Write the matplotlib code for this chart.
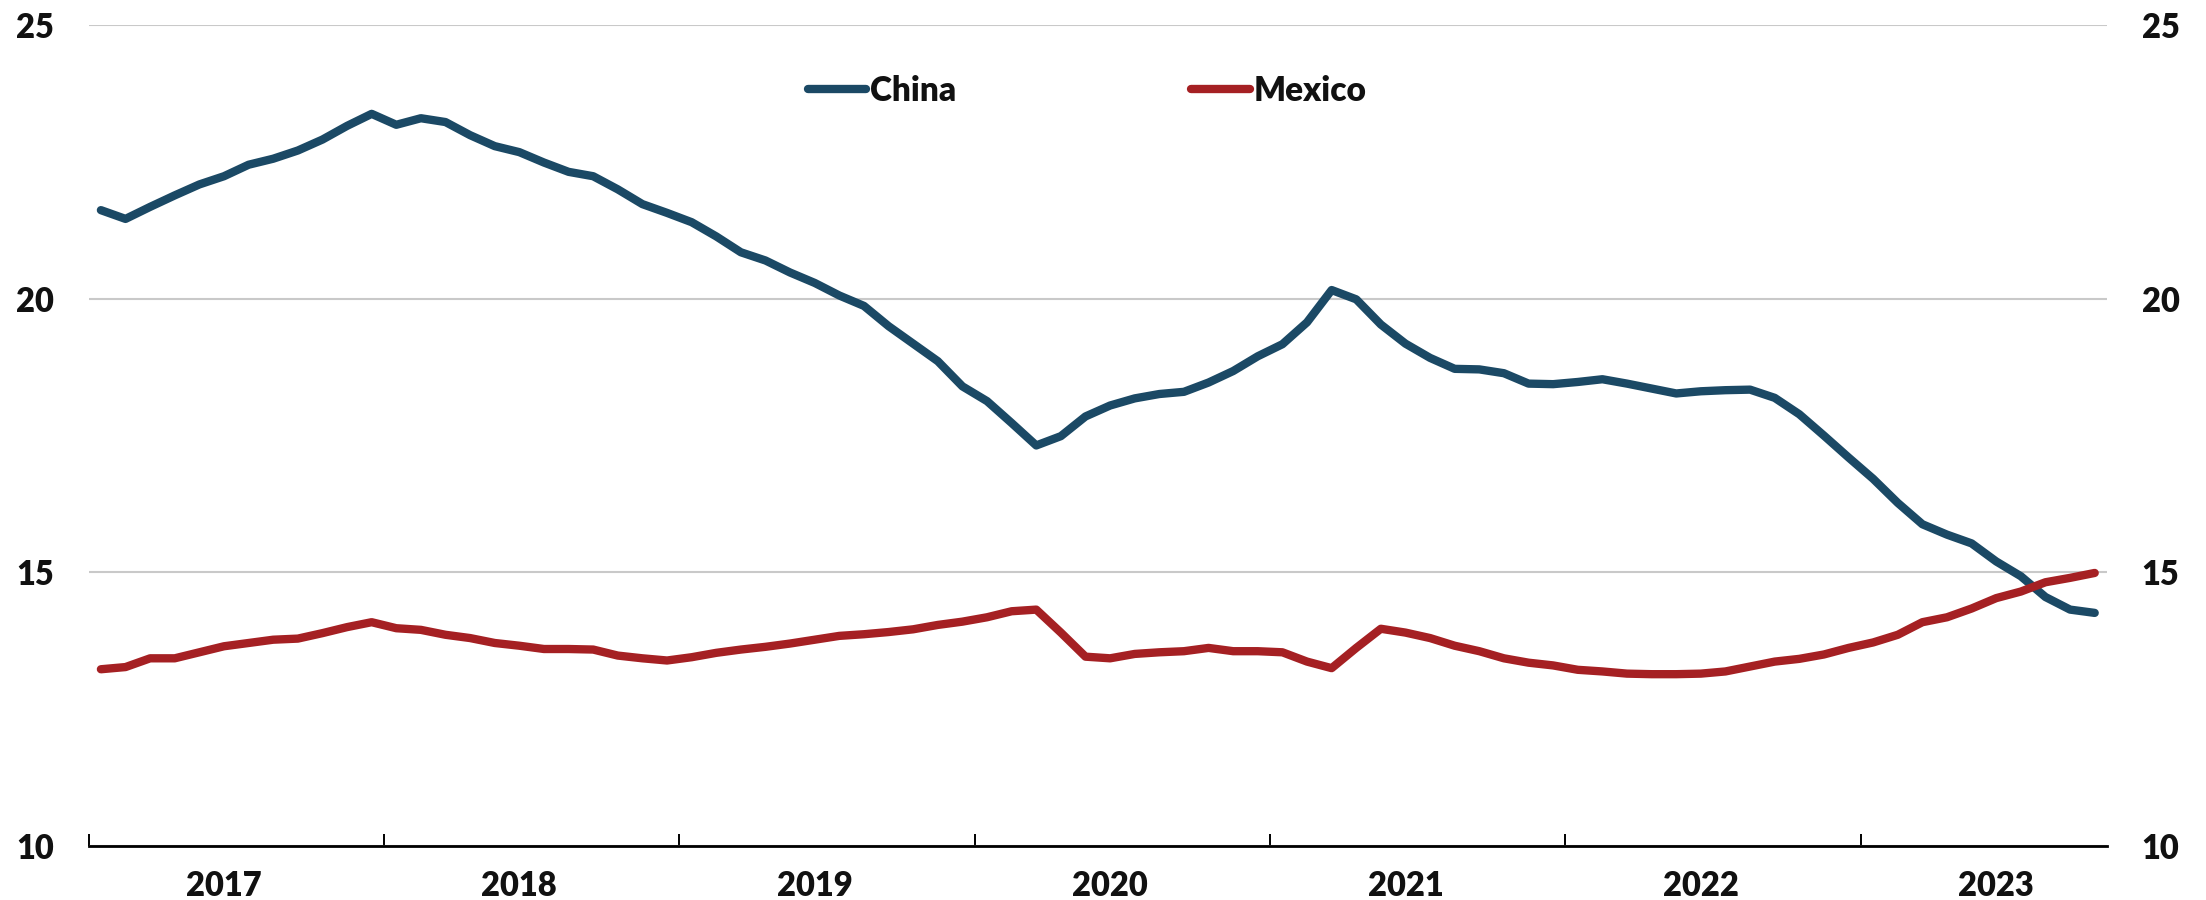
import matplotlib
matplotlib.use("Agg")
import matplotlib.pyplot as plt
import numpy as np

# Monthly data, Jan 2017 - Oct 2023 (share, %)
china = [21.62, 21.46, 21.68, 21.89, 22.09, 22.24, 22.45, 22.56, 22.71, 22.91, 23.16, 23.38,
         23.18, 23.30, 23.23, 22.99, 22.79, 22.68, 22.49, 22.32, 22.24, 22.00, 21.73, 21.57,
         21.40, 21.14, 20.85, 20.70, 20.48, 20.29, 20.06, 19.87, 19.50, 19.18, 18.86, 18.40,
         18.13, 17.73, 17.32, 17.49, 17.85, 18.05, 18.18, 18.26, 18.30, 18.47, 18.68, 18.95,
         19.17, 19.57, 20.16, 19.99, 19.53, 19.18, 18.92, 18.72, 18.71, 18.64, 18.45, 18.44,
         18.48, 18.53, 18.45, 18.36, 18.27, 18.31, 18.33, 18.34, 18.19, 17.89, 17.50, 17.10,
         16.71, 16.27, 15.88, 15.69, 15.53, 15.20, 14.93, 14.55, 14.32, 14.26]
mexico = [13.23, 13.27, 13.43, 13.43, 13.54, 13.65, 13.71, 13.77, 13.79, 13.89, 14.00, 14.09,
          13.98, 13.95, 13.86, 13.80, 13.71, 13.66, 13.60, 13.60, 13.59, 13.48, 13.43, 13.39,
          13.45, 13.53, 13.59, 13.64, 13.70, 13.77, 13.84, 13.87, 13.91, 13.96, 14.04, 14.10,
          14.18, 14.29, 14.32, 13.90, 13.46, 13.43, 13.51, 13.54, 13.56, 13.62, 13.56, 13.56,
          13.54, 13.37, 13.25, 13.62, 13.97, 13.90, 13.80, 13.66, 13.56, 13.43, 13.35, 13.30,
          13.22, 13.19, 13.15, 13.14, 13.14, 13.15, 13.19, 13.28, 13.37, 13.42, 13.50, 13.62,
          13.72, 13.86, 14.09, 14.18, 14.34, 14.53, 14.65, 14.82, 14.90, 14.99]
years = ["2017", "2018", "2019", "2020", "2021", "2022", "2023"]
series_names = ["China", "Mexico"]
colors = ["#1B4965", "#A52023"]
yticks = [10, 15, 20, 25]

FONT = ["Lato", "DejaVu Sans"]
WEIGHT = "heavy"
plt.rcParams["font.family"] = FONT

fig = plt.figure(figsize=(22.06, 9.0), dpi=100)
ax = fig.add_axes([88.6 / 2206, 1 - 846 / 900, (2107 - 88.6) / 2206, (846 - 25.2) / 900])

n = len(china)
x = np.arange(n) + 0.5
for vals, name, c in zip([china, mexico], series_names, colors):
    ax.plot(x, vals, color=c, lw=6.0, label=name,
            solid_capstyle="round", solid_joinstyle="round", zorder=3)

ax.set_xlim(0, n)
ax.set_ylim(10, 25)
ax.set_yticks(yticks)
ax.set_yticklabels([str(v) for v in yticks])
ax.yaxis.grid(True, color="#C9C9C9", lw=1.5)
ax.set_axisbelow(True)

for s in ["top", "left", "right"]:
    ax.spines[s].set_visible(False)
ax.spines["bottom"].set_linewidth(2.0)
ax.spines["bottom"].set_color("black")

ax.set_xticks(np.arange(0, n, 12))
ax.set_xticklabels([])
ax.set_xticks(np.arange(len(years)) * 12 + 5.5, minor=True)
ax.set_xticklabels(years, minor=True)
ax.tick_params(axis="x", which="major", direction="in", length=8.5, width=1.4, color="black")
ax.tick_params(axis="x", which="minor", length=0, pad=17, labelsize=23.5, labelcolor="#111111")
ax.tick_params(axis="y", length=0, pad=25, labelsize=23.5, labelcolor="#111111",
               labelleft=True, labelright=True)
for lab in ax.get_xticklabels(minor=True) + ax.get_yticklabels():
    lab.set_fontweight(WEIGHT)

leg = fig.legend(loc="center left", bbox_to_anchor=(808 / 2206, 1 - 90.7 / 900),
                 ncol=2, frameon=False, fontsize=24, handlelength=1.75,
                 handletextpad=0.12, columnspacing=7.05, borderpad=0, borderaxespad=0,
                 prop={"family": FONT, "weight": WEIGHT, "size": 24})
for t in leg.get_texts():
    t.set_color("#111111")
for h in leg.get_lines():
    h.set_solid_capstyle("round")

fig.savefig("out.png", dpi=100)
